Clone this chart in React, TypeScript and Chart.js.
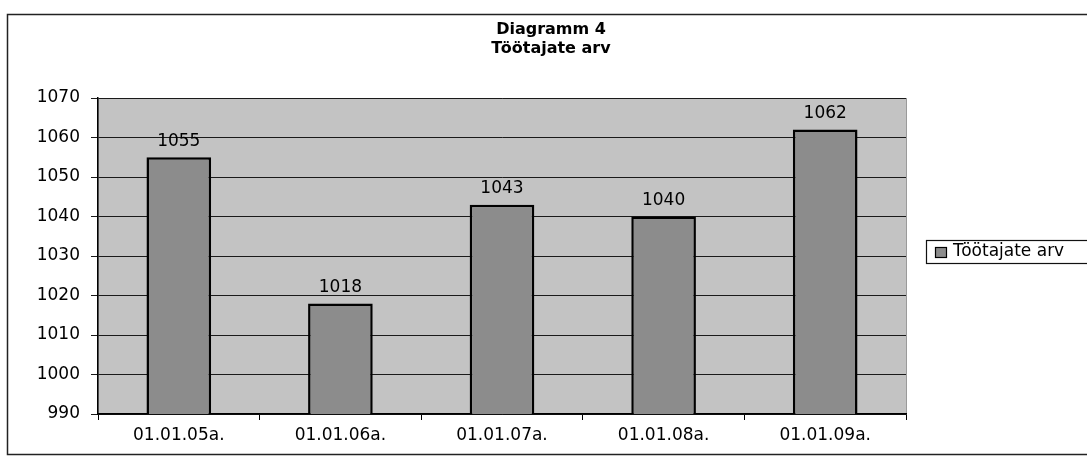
import React, { useEffect, useRef } from "react";
import { Chart, registerables } from "chart.js";

Chart.register(...registerables);

const categories = ["01.01.05a.", "01.01.06a.", "01.01.07a.", "01.01.08a.", "01.01.09a."];
const seriesName = "Töötajate arv";
const values = [1055, 1018, 1043, 1040, 1062];
const titleLines = ["Diagramm 4", "Töötajate arv"];
const yMin = 990;
const yMax = 1070;
const yStep = 10;

const FONT = "'DejaVu Sans', 'Liberation Sans', sans-serif";
const BAR_COLOR = "#8c8c8c";
const PLOT_BG = "#c3c3c3";

const decorPlugin = {
  id: "decor",
  beforeDraw(chart: any) {
    const { ctx, chartArea, width, height } = chart;
    ctx.save();
    ctx.fillStyle = "#ffffff";
    ctx.fillRect(0, 0, width, height);
    // outer chart border
    ctx.strokeStyle = "#222";
    ctx.lineWidth = 1.5;
    ctx.strokeRect(7.5, 14.5, width + 10, height - 17);
    // plot area background
    ctx.fillStyle = PLOT_BG;
    ctx.fillRect(chartArea.left, chartArea.top, chartArea.right - chartArea.left, chartArea.bottom - chartArea.top);
    ctx.strokeStyle = "#9a9a9a";
    ctx.lineWidth = 1;
    ctx.strokeRect(chartArea.left + 0.5, chartArea.top + 0.5, chartArea.right - chartArea.left, chartArea.bottom - chartArea.top);
    // title
    ctx.fillStyle = "#000";
    ctx.font = `bold 16px ${FONT}`;
    ctx.textAlign = "center";
    ctx.textBaseline = "middle";
    ctx.fillText(titleLines[0], 551, 30);
    ctx.fillText(titleLines[1], 551, 49);
    ctx.restore();
  },
  afterDatasetsDraw(chart: any) {
    const { ctx } = chart;
    const meta = chart.getDatasetMeta(0);
    ctx.save();
    ctx.fillStyle = "#000";
    ctx.font = `17px ${FONT}`;
    ctx.textAlign = "center";
    ctx.textBaseline = "middle";
    meta.data.forEach((el: any, i: number) => {
      ctx.fillText(String(values[i]), el.x, el.y - 16);
    });
    ctx.restore();
  },
  afterDraw(chart: any) {
    const { ctx, width } = chart;
    ctx.save();
    // legend box
    ctx.fillStyle = "#fff";
    ctx.fillRect(926.5, 240.5, width, 23);
    ctx.strokeStyle = "#111";
    ctx.lineWidth = 1.2;
    ctx.strokeRect(926.5, 240.5, width, 23);
    ctx.fillStyle = BAR_COLOR;
    ctx.fillRect(935.5, 247.5, 11, 10);
    ctx.strokeStyle = "#000";
    ctx.strokeRect(935.5, 247.5, 11, 10);
    ctx.fillStyle = "#000";
    ctx.font = `17px ${FONT}`;
    ctx.textAlign = "left";
    ctx.textBaseline = "middle";
    ctx.fillText(seriesName, 953, 252);
    ctx.restore();
  },
};

export default function App() {
  const ref = useRef<HTMLCanvasElement | null>(null);
  useEffect(() => {
    if (!ref.current) return;
    const chart = new Chart(ref.current, {
      type: "bar",
      data: {
        labels: categories,
        datasets: [
          {
            label: seriesName,
            data: values,
            backgroundColor: BAR_COLOR,
            borderColor: "#000",
            borderWidth: 2.5,
            borderSkipped: false,
            barPercentage: 0.4,
            categoryPercentage: 1,
          },
        ],
      },
      options: {
        animation: false,
        responsive: false,
        maintainAspectRatio: false,
        layout: { padding: { left: 0, right: 181, top: 98, bottom: 0 } },
        plugins: {
          legend: { display: false },
          title: { display: false },
          tooltip: { enabled: false },
        },
        scales: {
          x: {
            grid: {
              offset: true,
              drawOnChartArea: false,
              drawTicks: true,
              tickLength: 6,
              color: "#000",
            },
            border: { color: "#000", width: 1.5 },
            ticks: {
              color: "#000",
              font: { family: FONT, size: 17 },
              padding: 5,
              maxRotation: 0,
            },
            afterFit(scale: any) {
              scale.height = 43;
            },
          },
          y: {
            min: yMin,
            max: yMax,
            ticks: {
              stepSize: yStep,
              color: "#000",
              font: { family: FONT, size: 17 },
              padding: 11,
              callback: (v: any) => String(v),
            },
            grid: { color: "#1a1a1a", lineWidth: 1, tickLength: 7 },
            border: { color: "#000", width: 1.5 },
            afterFit(scale: any) {
              scale.width = 98;
            },
          },
        },
      },
      plugins: [decorPlugin],
    });
    return () => chart.destroy();
  }, []);
  return (
    <div style={{ position: "absolute", left: 0, top: 0, width: 1087, height: 457 }}>
      <canvas ref={ref} width={1087} height={457} />
    </div>
  );
}
